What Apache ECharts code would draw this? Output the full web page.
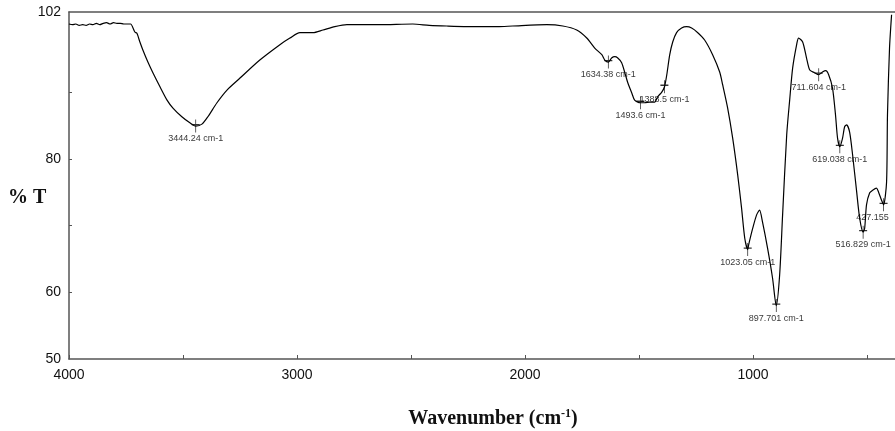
<!DOCTYPE html>
<html>
<head>
<meta charset="utf-8">
<script src="https://cdn.jsdelivr.net/npm/echarts@6/dist/echarts.min.js"></script>
<style>html,body{margin:0;padding:0;background:#fff;}#c{width:895px;height:431px;}</style>
</head>
<body>
<div id="c"></div>
<script>
// Wavenumber (cm-1) and % transmittance
const wavenumber = [4000,3985,3970,3955,3940,3925,3910,3895,3880,3865,3850,3835,3820,3805,3790,3775,3760,3745,3730,3711,3702,3689,3676,3654,3632,3601,3570,3544,3505,3470,3444,3417,3391,3351,3307,3250,3163,3075,3031,2987,2930,2886,2834,2781,2637,2492,2420,2343,2198,2120,2054,1904,1834,1773,1729,1694,1663,1650,1634,1620,1606,1593,1576,1562,1549,1532,1519,1494,1475,1453,1431,1418,1400,1388,1378,1365,1352,1335,1313,1291,1269,1242,1212,1177,1146,1133,1111,1089,1067,1050,1036,1023,1019,1001,984,971,958,936,914,898,883,870,852,839,826,808,800,782,765,751,730,712,695,681,668,651,638,629,619,607,598,589,576,563,545,532,517,510,502,488,475,458,449,436,427,414,410,401,392];
const transmittance = [100.2,100.1,100.2,100.0,100.1,100.0,100.2,100.1,100.3,100.1,100.3,100.4,100.2,100.4,100.3,100.3,100.2,100.2,100.2,99.0,98.8,97.5,96.3,94.5,92.9,90.8,88.8,87.6,86.3,85.4,84.9,85.2,86.3,88.4,90.3,92.1,94.8,97.1,98.1,98.9,98.9,99.3,99.8,100.1,100.1,100.2,100.0,99.9,99.8,99.8,99.9,100.1,99.9,99.3,98.1,96.6,95.6,94.8,94.5,95.1,95.3,95.1,94.4,92.9,91.4,89.9,88.8,88.4,88.4,88.5,88.5,89.3,90.0,90.8,92.6,95.6,97.5,98.9,99.6,99.8,99.6,98.9,97.8,95.6,93.0,91.1,87.6,83.1,77.6,72.6,68.1,66.4,67.1,69.6,71.6,72.3,70.5,66.6,62.1,58.0,62.6,71.6,83.6,88.8,93.6,97.2,98.1,97.5,95.1,93.3,92.9,92.6,93.0,93.2,92.6,90.6,86.6,83.1,81.8,83.1,84.8,85.1,84.0,80.6,75.0,71.1,69.0,69.6,73.1,74.9,75.3,75.6,75.0,73.8,73.1,76.5,86.6,96.6,101.6];

// Annotated peaks
const peakWavenumber = [3444.24,1634.38,1493.6,1388.5,1023.05,897.701,711.604,619.038,516.829,427.155];
const peakT = [84.9,94.5,88.4,90.8,66.4,58.0,92.6,81.8,69.0,73.1];
const peakText = ['3444.24 cm-1','1634.38 cm-1','1493.6 cm-1','1388.5 cm-1','1023.05 cm-1','897.701 cm-1','711.604 cm-1','619.038 cm-1','516.829 cm-1','427.155'];

// Axis ticks and labels
const xTicks = [4000,3500,3000,2500,2000,1500,1000,500];
const xLabels = [4000,3000,2000,1000];
const yTicks = [60,70,80,90];
const yLabels = [50,60,80,102];

const lineData = wavenumber.map((w,i)=>[w, transmittance[i]]);
const peakData = peakWavenumber.map((w,i)=>{
  const item = {value:[w, peakT[i]], name: peakText[i]};
  if (i === peakWavenumber.length - 1) item.label = {offset:[-11,0]};
  return item;
});

const axisColor = '#555';
const chart = echarts.init(document.getElementById('c'), null, {renderer:'canvas'});
chart.setOption({
  animation:false,
  backgroundColor:'#fff',
  title:{text:'% T', left:8, top:188, padding:0,
    textStyle:{fontFamily:'Liberation Serif', fontWeight:'bold', fontSize:20, color:'#111'}},
  grid:{left:69, right:0, top:12, bottom:72, outerBoundsMode:'none'},
  xAxis:[{
    type:'value', inverse:true, min:377, max:4000,
    axisLine:{show:true, onZero:false, lineStyle:{color:axisColor, width:1.5}},
    axisTick:{show:true, inside:true, length:4, customValues:xTicks, lineStyle:{color:axisColor}},
    axisLabel:{show:true, customValues:xLabels, formatter:v=>String(v), fontSize:14, margin:9, color:'#111', fontFamily:'Liberation Sans'},
    splitLine:{show:false},
    name:'{a|Wavenumber (cm}{s|-1}{a|)}',
    nameLocation:'middle', nameGap:49,
    nameTextStyle:{padding:[0,0,0,22], rich:{
      a:{fontFamily:'Liberation Serif', fontWeight:'bold', fontSize:20, color:'#111', lineHeight:22},
      s:{fontFamily:'Liberation Serif', fontWeight:'bold', fontSize:12, color:'#111', verticalAlign:'top', lineHeight:12}
    }}
  },{
    type:'value', position:'top', inverse:true, min:377, max:4000,
    axisLine:{show:true, onZero:false, lineStyle:{color:axisColor, width:1.5}},
    axisTick:{show:false}, axisLabel:{show:false}, splitLine:{show:false}
  }],
  yAxis:{
    type:'value', min:50, max:102,
    axisLine:{show:true, lineStyle:{color:axisColor, width:1.5}},
    axisTick:{show:true, inside:true, length:3, customValues:yTicks, lineStyle:{color:axisColor}},
    axisLabel:{show:true, customValues:yLabels, formatter:v=>String(v), fontSize:14, margin:8, color:'#111', fontFamily:'Liberation Sans'},
    splitLine:{show:false}
  },
  series:[{
    type:'line', data:lineData, xAxisIndex:0, showSymbol:false, smooth:0.25,
    lineStyle:{color:'#000', width:1.2}, clip:true
  },{
    type:'scatter', data:peakData, xAxisIndex:0,
    symbol:'path://M4 0L4 13M0 5L8 5', symbolSize:[8,13],
    itemStyle:{color:'rgba(0,0,0,0)', borderColor:'#000', borderWidth:1},
    label:{show:true, position:'bottom', distance:1, formatter:p=>p.name,
      fontSize:9, color:'#000', fontFamily:'Liberation Sans'}
  }]
});
</script>
</body>
</html>
